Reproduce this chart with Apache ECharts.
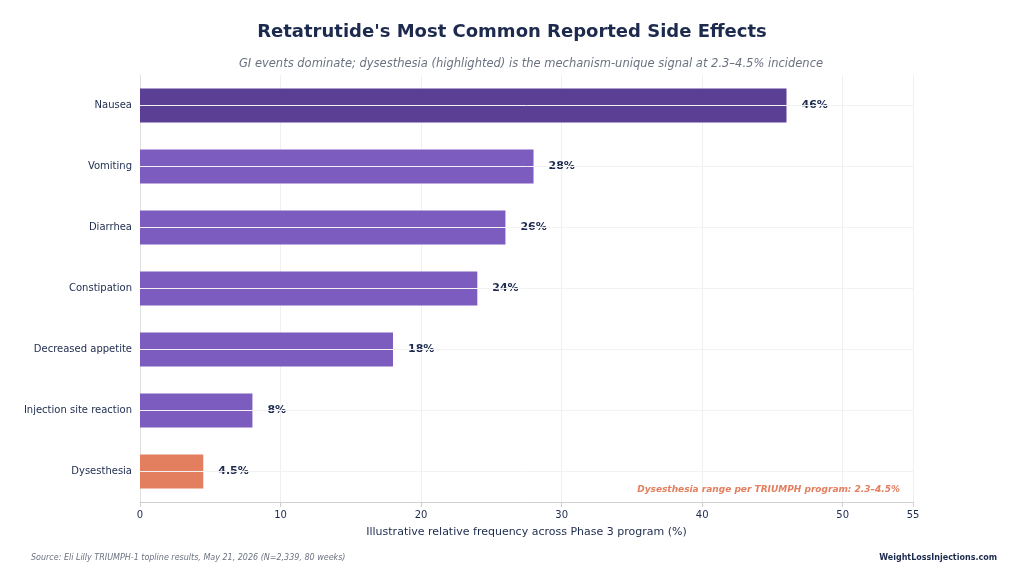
<!DOCTYPE html>
<html><head><meta charset="utf-8">
<script src="https://cdn.jsdelivr.net/npm/echarts@6/dist/echarts.min.js"></script>
<style>html,body{margin:0;padding:0;background:#fff}#c{width:1024px;height:581px}</style>
</head><body><div id="c"></div>
<script>
const categories = ["Nausea","Vomiting","Diarrhea","Constipation","Decreased appetite","Injection site reaction","Dysesthesia"];
const values = [46,28,26,24,18,8,4.5];
const labels = ["46%","28%","26%","24%","18%","8%","4.5%"];
const colors = ["#5b3f95","#7c5cbf","#7c5cbf","#7c5cbf","#7c5cbf","#7c5cbf","#e37e5e"];
const chart = echarts.init(document.getElementById('c'));
chart.setOption({
  animation:false,
  textStyle:{fontFamily:'DejaVu Sans'},
  title:[
    {text:"Retatrutide's Most Common Reported Side Effects",left:'center',top:18,textStyle:{fontSize:18,fontWeight:'bold',color:'#1c2a4d'}},
    {text:"GI events dominate; dysesthesia (highlighted) is the mechanism-unique signal at 2.3–4.5% incidence",left:526,textAlign:'center',top:53,textStyle:{fontSize:11.5,fontStyle:'italic',fontWeight:'normal',color:'#6b7280'}},
    {text:"Source: Eli Lilly TRIUMPH-1 topline results, May 21, 2026 (N=2,339, 80 weeks)",left:26,top:549,textStyle:{fontSize:8,fontStyle:'italic',fontWeight:'normal',color:'#6b7280'}},
    {text:"WeightLossInjections.com",right:22,top:549,textStyle:{fontSize:8,fontWeight:'bold',color:'#1c2a4d'}},
    {text:"Dysesthesia range per TRIUMPH program: 2.3–4.5%",right:119,top:480,textStyle:{fontSize:9,fontStyle:'italic',fontWeight:'bold',color:'#e37e5e'}}
  ],
  grid:{left:140,right:111,top:75,bottom:79,containLabel:false},
  xAxis:{type:'value',min:0,max:55,interval:10,
    name:'Illustrative relative frequency across Phase 3 program (%)',nameLocation:'middle',nameGap:25,
    nameTextStyle:{fontSize:11,color:'#1c2a4d'},
    axisLine:{show:true,lineStyle:{color:'#d0d0d0'}},axisTick:{show:true,lineStyle:{color:'#d0d0d0'}},
    axisLabel:{fontSize:10,color:'#1c2a4d'},
    splitLine:{lineStyle:{color:'#f0f0f0'}}},
  yAxis:{type:'category',data:categories,inverse:true,
    axisLine:{show:true,lineStyle:{color:'#e0e0e0'}},axisTick:{show:false},
    axisLabel:{fontSize:10,color:'#1c2a4d',margin:8},
    splitLine:{show:false}},
  series:[{type:'bar',barWidth:34,
    data:values.map((v,i)=>({value:v,itemStyle:{color:colors[i]},label:{formatter:labels[i]}})),
    label:{show:true,position:'right',distance:15,fontSize:11,fontWeight:'bold',color:'#1c2a4d'}},
    {type:'line',data:[],markLine:{silent:true,symbol:'none',label:{show:false},lineStyle:{color:'#f2f2f2',type:'solid',width:1},
      data:categories.map(c=>({yAxis:c}))}}]
});
</script></body></html>
